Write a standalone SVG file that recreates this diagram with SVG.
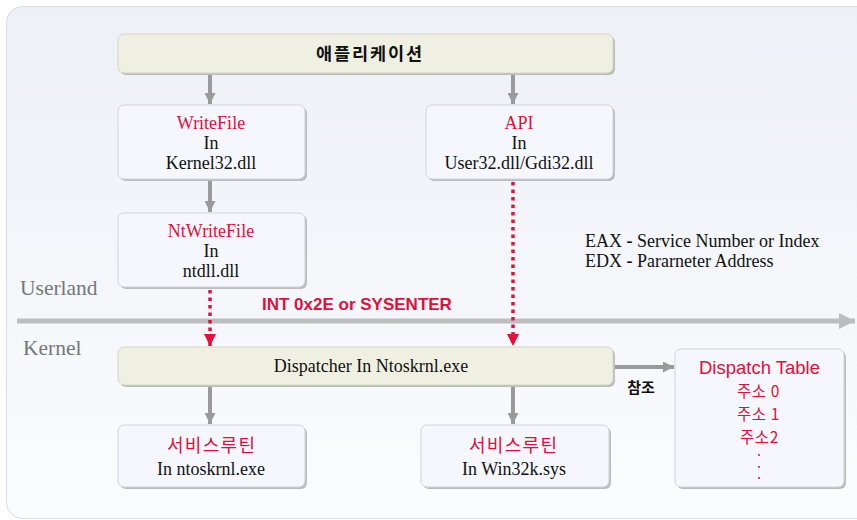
<svg xmlns="http://www.w3.org/2000/svg" width="857" height="520" viewBox="0 0 857 520">
  <defs>
    <linearGradient id="panelFill" x1="0" y1="0" x2="0" y2="1">
      <stop offset="0" stop-color="#edf0f6"/>
      <stop offset="1" stop-color="#fbfcfe"/>
    </linearGradient>
    <marker id="grayHead" viewBox="0 0 10 10" refX="10" refY="5" markerWidth="11" markerHeight="11" markerUnits="userSpaceOnUse" orient="auto">
      <path d="M0,0 L10,5 L0,10 Z" fill="#9a9a9a"/>
    </marker>
    <marker id="redHead" viewBox="0 0 10 10" refX="10" refY="5" markerWidth="12" markerHeight="12" markerUnits="userSpaceOnUse" orient="auto">
      <path d="M0,0 L10,5 L0,10 Z" fill="#e2123c"/>
    </marker>
    <marker id="axisHead" viewBox="0 0 10 10" refX="10" refY="5" markerWidth="16" markerHeight="16" markerUnits="userSpaceOnUse" orient="auto">
      <path d="M0,0 L10,5 L0,10 Z" fill="#bdbdbd"/>
    </marker>
  </defs>
  <style>
    .shadow { fill: #bcbcbc; }
    .box { fill: #f5f7fc; stroke: #cfd4dc; stroke-width: 1; }
    .app { fill: #f0f0e2; stroke: #d6d6c2; stroke-width: 1; }
    .serif { font-family: "Liberation Serif", "Times New Roman", serif; font-size: 18px; fill: #111; }
    .red { fill: #e0103c; }
    .sans { font-family: "Liberation Sans", "Noto Sans CJK KR", sans-serif; }
    .kr { font-family: "Noto Sans CJK KR", "Liberation Sans", sans-serif; }
    .lane { font-family: "Liberation Serif", "Times New Roman", serif; font-size: 21.5px; fill: #777; }
    .flow { stroke: #9a9a9a; stroke-width: 4; fill: none; marker-end: url(#grayHead); }
    .call { stroke: #e2123c; stroke-width: 3.5; stroke-dasharray: 3.5 4; fill: none; marker-end: url(#redHead); }
    .addr { font-size: 15.5px; letter-spacing: 0.6px; }
    .routine { font-size: 18px; letter-spacing: 1.3px; }
  </style>

  <!-- background panel -->
  <rect x="6.5" y="6.5" width="880" height="512" rx="16" fill="url(#panelFill)" stroke="#d8dce4" stroke-width="1"/>

  <!-- user/kernel boundary -->
  <g id="boundary">
    <line x1="17" y1="321" x2="855" y2="321" stroke="#bdbdbd" stroke-width="5" marker-end="url(#axisHead)"/>
    <text class="lane" x="20" y="295">Userland</text>
    <text class="lane" x="23" y="355">Kernel</text>
  </g>

  <!-- connectors -->
  <g id="connectors">
    <line class="flow" x1="210" y1="74" x2="210" y2="104"/>
    <line class="flow" x1="513" y1="74" x2="513" y2="104"/>
    <line class="flow" x1="210" y1="180" x2="210" y2="212"/>
    <line class="call" x1="210" y1="290" x2="210" y2="346"/>
    <line class="call" x1="513" y1="182" x2="513" y2="346"/>
    <line class="flow" x1="210" y1="386" x2="210" y2="424"/>
    <line class="flow" x1="513" y1="386" x2="513" y2="424"/>
    <line class="flow" x1="614" y1="367" x2="674" y2="367"/>
    <text class="sans" x="262" y="310" font-size="17" font-weight="bold" fill="#e0103c">INT 0x2E or SYSENTER</text>
    <text class="kr" x="641" y="393" font-size="15" font-weight="bold" fill="#111" text-anchor="middle">참조</text>
  </g>

  <!-- register note -->
  <g id="registers">
    <text class="serif" x="585" y="247">EAX <tspan font-weight="bold">-</tspan> Service Number or Index</text>
    <text class="serif" x="585" y="267">EDX <tspan font-weight="bold">-</tspan> Pararneter Address</text>
  </g>

  <!-- application -->
  <g id="application">
    <rect class="shadow" x="120" y="36" width="495" height="39" rx="6"/>
    <rect class="app" x="118" y="34" width="495" height="39" rx="6"/>
    <text class="kr" x="316" y="60" font-size="17.5" font-weight="bold" letter-spacing="1.9" fill="#111">애플리케이션</text>
  </g>

  <!-- WriteFile in Kernel32.dll -->
  <g id="writefile">
    <rect class="shadow" x="120" y="107" width="187" height="74" rx="6"/>
    <rect class="box" x="118" y="105" width="187" height="74" rx="6"/>
    <text class="serif" x="211" y="129" text-anchor="middle"><tspan class="red">WriteFile</tspan></text>
    <text class="serif" x="211" y="149" text-anchor="middle">In</text>
    <text class="serif" x="211" y="169" text-anchor="middle">Kernel32.dll</text>
  </g>

  <!-- API in User32/Gdi32 -->
  <g id="api">
    <rect class="shadow" x="428" y="107" width="187" height="74" rx="6"/>
    <rect class="box" x="426" y="105" width="187" height="74" rx="6"/>
    <text class="serif" x="519" y="129" text-anchor="middle"><tspan class="red">API</tspan></text>
    <text class="serif" x="519" y="149" text-anchor="middle">In</text>
    <text class="serif" x="519" y="169" text-anchor="middle">User32.dll/Gdi32.dll</text>
  </g>

  <!-- NtWriteFile in ntdll.dll -->
  <g id="ntwritefile">
    <rect class="shadow" x="120" y="215" width="187" height="74" rx="6"/>
    <rect class="box" x="118" y="213" width="187" height="74" rx="6"/>
    <text class="serif" x="211" y="237" text-anchor="middle"><tspan class="red">NtWriteFile</tspan></text>
    <text class="serif" x="211" y="257" text-anchor="middle">In</text>
    <text class="serif" x="211" y="277" text-anchor="middle">ntdll.dll</text>
  </g>

  <!-- system call dispatcher -->
  <g id="dispatcher">
    <rect class="shadow" x="120" y="349" width="495" height="38" rx="6"/>
    <rect class="app" x="118" y="347" width="495" height="38" rx="6"/>
    <text class="serif" x="371" y="372" text-anchor="middle">Dispatcher In Ntoskrnl.exe</text>
  </g>

  <!-- dispatch table -->
  <g id="dispatch-table">
    <rect class="shadow" x="677" y="351" width="169" height="138" rx="6"/>
    <rect class="box" x="675" y="349" width="169" height="138" rx="6"/>
    <text class="sans red" x="759.5" y="374" font-size="18.5" text-anchor="middle">Dispatch Table</text>
    <text class="kr red addr" x="737" y="397">주소 0</text>
    <text class="kr red addr" x="737" y="420">주소 1</text>
    <text class="kr red addr" x="740" y="443">주소2</text>
    <circle cx="759" cy="455" r="1" fill="#e0103c"/>
    <circle cx="759" cy="467" r="1" fill="#e0103c"/>
    <circle cx="759" cy="478" r="1" fill="#e0103c"/>
  </g>

  <!-- service routine in ntoskrnl.exe -->
  <g id="service-ntoskrnl">
    <rect class="shadow" x="120" y="427" width="187" height="62" rx="6"/>
    <rect class="box" x="118" y="425" width="187" height="62" rx="6"/>
    <text class="kr red routine" x="167" y="452">서비스루틴</text>
    <text class="serif" x="211" y="475" text-anchor="middle">In ntoskrnl.exe</text>
  </g>

  <!-- service routine in win32k.sys -->
  <g id="service-win32k">
    <rect class="shadow" x="423" y="427" width="188" height="62" rx="6"/>
    <rect class="box" x="421" y="425" width="188" height="62" rx="6"/>
    <text class="kr red routine" x="469" y="452">서비스루틴</text>
    <text class="serif" x="514" y="475" text-anchor="middle">In Win32k.sys</text>
  </g>
</svg>
